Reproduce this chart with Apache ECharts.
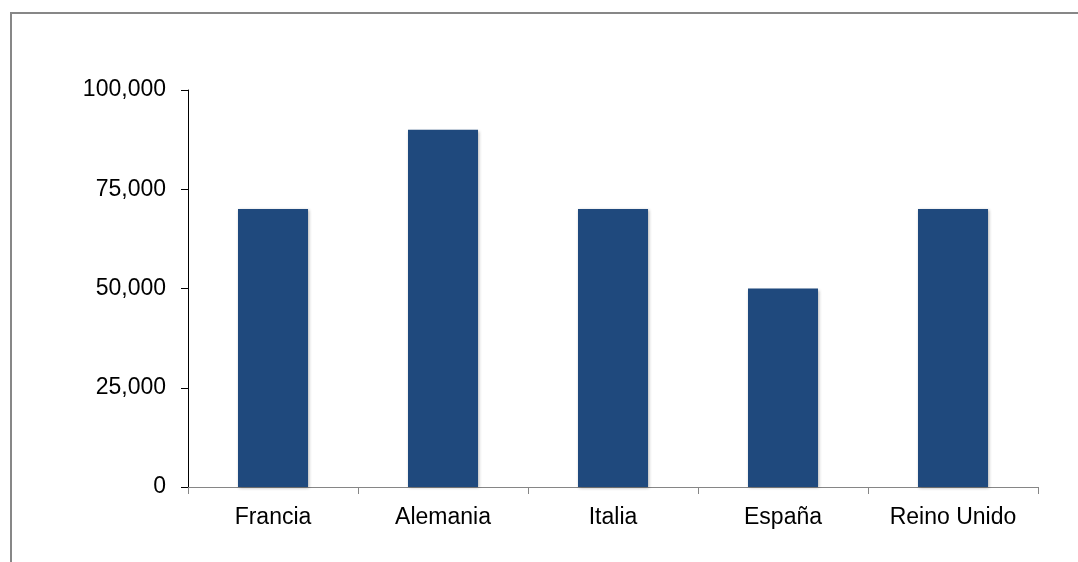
<!DOCTYPE html>
<html>
<head>
<meta charset="utf-8">
<script src="https://cdn.jsdelivr.net/npm/echarts@6/dist/echarts.min.js"></script>
<style>
html,body{margin:0;padding:0;background:#fff;}
#c{width:1078px;height:562px;}
</style>
</head>
<body>
<div id="c"></div>
<script>
const categories = ['Francia', 'Alemania', 'Italia', 'España', 'Reino Unido'];
const values = [70000, 90000, 70000, 50000, 70000];
const yTicks = [0, 25000, 50000, 75000, 100000];

const chart = echarts.init(document.getElementById('c'));
chart.setOption({
  animation: false,
  textStyle: { fontFamily: 'Liberation Sans, Arial, sans-serif' },
  graphic: [{
    type: 'rect',
    shape: { x: 11, y: 13, width: 1200, height: 700 },
    style: { fill: 'none', stroke: '#878787', lineWidth: 2 },
    silent: true
  }],
  grid: { left: 188, right: 40, top: 90, bottom: 75 },
  xAxis: {
    type: 'category',
    data: categories,
    boundaryGap: true,
    axisLine: { lineStyle: { color: '#868686', width: 1 } },
    axisTick: { show: true, length: 7, lineStyle: { color: '#868686' } },
    axisLabel: { color: '#000', fontSize: 23, margin: 19 }
  },
  yAxis: {
    type: 'value',
    min: yTicks[0],
    max: yTicks[yTicks.length - 1],
    interval: 25000,
    splitLine: { show: false },
    axisLine: { show: true, lineStyle: { color: '#000', width: 1 } },
    axisTick: { show: true, length: 7, lineStyle: { color: '#000' } },
    axisLabel: {
      color: '#000', fontSize: 23, margin: 22,
      formatter: v => v.toLocaleString('en-US')
    }
  },
  series: [{
    type: 'bar',
    data: values,
    barWidth: 70,
    itemStyle: {
      color: '#1F497D',
      shadowColor: 'rgba(0,0,0,0.3)',
      shadowBlur: 3,
      shadowOffsetX: 1,
      shadowOffsetY: 1
    }
  }]
});
</script>
</body>
</html>
